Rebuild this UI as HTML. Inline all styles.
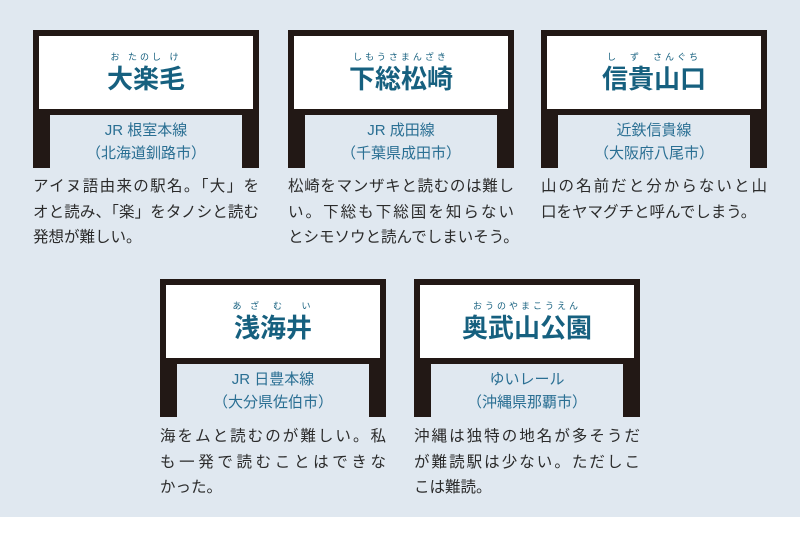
<!DOCTYPE html>
<html><head><meta charset="utf-8"><style>
*{margin:0;padding:0;box-sizing:border-box}
body{width:800px;height:533px;background:#fff;position:relative;overflow:hidden;font-family:"Liberation Sans","Noto Sans CJK JP",sans-serif}
.bg{position:absolute;left:0;top:0;width:800px;height:517px;background:#e0e8f0}
.sign{position:absolute;width:226px;height:138px;background:#221815}
.sign .inner{position:absolute;left:17px;right:17px;top:85px;bottom:0;background:#e0e8f0}
.sign .panel{position:absolute;left:6px;right:6px;top:6px;height:73px;background:#fff}
.title{position:absolute;left:0;right:0;top:28px;text-align:center;font-size:26px;font-weight:bold;color:#16607f;line-height:30px}
.ruby{position:absolute;left:0;right:0;top:16px;text-align:center;font-size:9px;color:#16607f;line-height:10px;letter-spacing:3px}
.sub{position:absolute;left:0;right:0;top:4px;text-align:center;font-size:15px;color:#2a6f93;line-height:23px}
.desc{position:absolute;width:226px;font-size:15.5px;color:#2b2b2b;line-height:25.5px}
.desc div{text-align:justify;text-align-last:justify;white-space:nowrap}
.desc div.l{text-align-last:left}
</style></head><body>
<div class="bg"></div>

<div class="sign" style="left:33px;top:30px"><div class="panel"><div class="ruby">お&nbsp;たのし&nbsp;け</div><div class="title">大楽毛</div></div><div class="inner"><div class="sub">JR 根室本線<br>（北海道釧路市）</div></div></div>
<div class="desc" style="left:33px;top:174px"><div>アイヌ語由来の駅名。「大」を</div><div>オと読み、「楽」をタノシと読む</div><div class="l">発想が難しい。</div></div>

<div class="sign" style="left:288px;top:30px"><div class="panel"><div class="ruby">しもうさまんざき</div><div class="title">下総松崎</div></div><div class="inner"><div class="sub">JR 成田線<br>（千葉県成田市）</div></div></div>
<div class="desc" style="left:288px;top:174px"><div>松崎をマンザキと読むのは難し</div><div>い。下総も下総国を知らない</div><div class="l">とシモソウと読んでしまいそう。</div></div>

<div class="sign" style="left:541px;top:30px"><div class="panel"><div class="ruby">し&nbsp;&nbsp;ず&nbsp;&nbsp;さんぐち</div><div class="title">信貴山口</div></div><div class="inner"><div class="sub">近鉄信貴線<br>（大阪府八尾市）</div></div></div>
<div class="desc" style="left:541px;top:174px"><div>山の名前だと分からないと山</div><div class="l">口をヤマグチと呼んでしまう。</div></div>

<div class="sign" style="left:160px;top:279px"><div class="panel"><div class="ruby">あ&nbsp;ざ&nbsp;&nbsp;む&nbsp;&nbsp;&nbsp;い</div><div class="title">浅海井</div></div><div class="inner"><div class="sub">JR 日豊本線<br>（大分県佐伯市）</div></div></div>
<div class="desc" style="left:160px;top:424px"><div>海をムと読むのが難しい。私</div><div>も一発で読むことはできな</div><div class="l">かった。</div></div>

<div class="sign" style="left:414px;top:279px"><div class="panel"><div class="ruby">おうのやまこうえん</div><div class="title">奥武山公園</div></div><div class="inner"><div class="sub">ゆいレール<br>（沖縄県那覇市）</div></div></div>
<div class="desc" style="left:414px;top:424px"><div>沖縄は独特の地名が多そうだ</div><div>が難読駅は少ない。ただしこ</div><div class="l">こは難読。</div></div>
</body></html>
